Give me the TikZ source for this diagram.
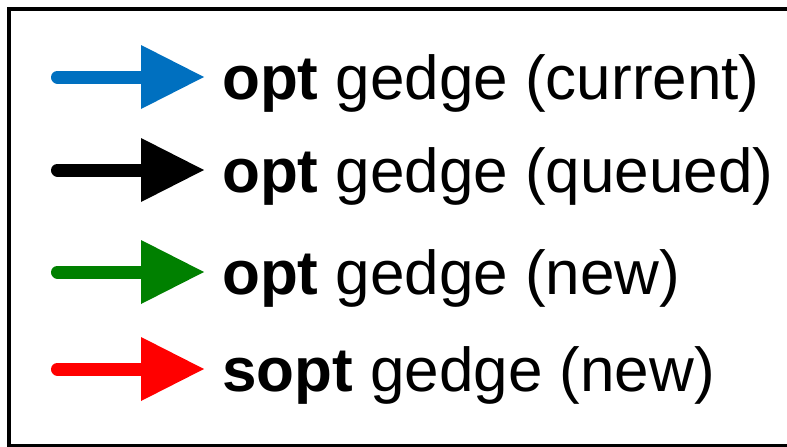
\documentclass[tikz,border=0pt]{standalone}
\usepackage{fontspec}
\setmainfont{Liberation Sans}
\definecolor{curblue}{RGB}{0,112,192}
\definecolor{newgreen}{RGB}{0,128,0}
\definecolor{soptred}{RGB}{255,0,0}
\begin{document}
\begin{tikzpicture}[x=1pt,y=-1pt,
  legtext/.style={anchor=base west, inner sep=0pt, font=\fontsize{62}{74}\selectfont},
  shaft/.style={line width=13pt, line cap=round},
]
\useasboundingbox (0,0) rectangle (787,447);
\clip (0,0) rectangle (787,447);
% frame of the legend
\draw[line width=4pt] (9.3,9.3) rectangle (900,445.5);

% one legend row: colour, vertical centre, label
\foreach \col/\yc/\name/\lab in {
  curblue/77/cur/{\textbf{opt} gedge (current)},
  black/170/que/{\textbf{opt} gedge (queued)},
  newgreen/272/new/{\textbf{opt} gedge (new)},
  soptred/369/sopt/{\textbf{sopt} gedge (new)}}{
  \coordinate (\name-s) at (57.5,\yc);
  \coordinate (\name-b) at (141,\yc);
  \coordinate (\name-t) at (204,\yc);
  \node[legtext] (\name-l) at (222,\yc+22) {\lab};
  \draw[shaft, \col] (\name-s) -- (\name-b);
  \fill[\col] ([yshift=32pt]\name-b) -- (\name-t) -- ([yshift=-32pt]\name-b) -- cycle;
}
\end{tikzpicture}
\end{document}
